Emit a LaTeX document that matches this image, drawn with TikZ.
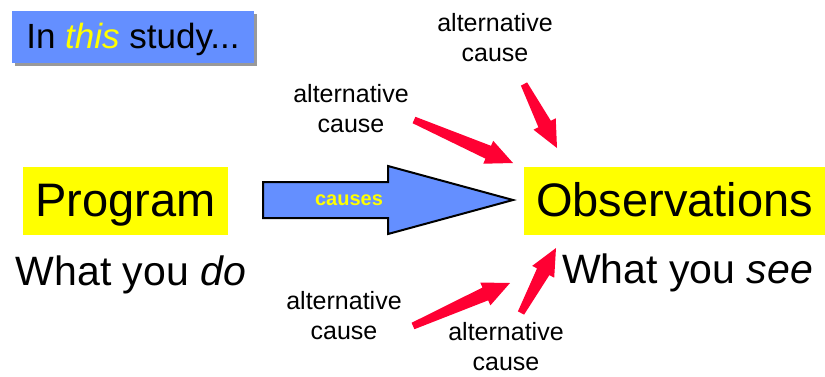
\documentclass[tikz,border=0pt]{standalone}
\usepackage{fontspec}
\setmainfont{Liberation Sans}
\usetikzlibrary{calc,backgrounds}
\definecolor{bluec}{RGB}{100,143,255}
\definecolor{yellowc}{RGB}{255,255,0}
\definecolor{redc}{RGB}{255,0,51}
\definecolor{shadowc}{RGB}{153,153,153}
\newcommand\redarrow[2]{%
  \coordinate (hb) at ($(#2)!27pt!(#1)$);
  \fill[redc] ($(#1)!3.5pt!90:(#2)$) -- ($(hb)!7pt!90:(#2)$) -- ($(hb)!12.5pt!90:(#2)$)
    -- (#2) -- ($(hb)!12.5pt!-90:(#2)$) -- ($(hb)!7pt!-90:(#2)$) -- ($(#1)!3.5pt!-90:(#2)$) -- cycle;
}
\tikzset{
  ybox/.style={fill=yellowc, inner sep=0pt, text height=38pt, text depth=8pt,
    minimum height=68pt, font=\fontsize{47}{56}\selectfont},
  bigtxt/.style={inner sep=0pt, anchor=base, font=\fontsize{41}{50}\selectfont},
  alt/.style={inner sep=0pt, align=center, font=\fontsize{25}{30}\selectfont},
  bluearrow/.style={fill=bluec, draw=black, line width=2pt, line join=miter},
}
\begin{document}
\begin{tikzpicture}[x=1pt,y=-1pt]
\useasboundingbox (0,0) rectangle (825,376);
% title box
\node[fill=bluec, inner sep=0pt, minimum width=242pt, minimum height=52pt,
  text height=28pt, text depth=6pt, font=\fontsize{35}{42}\selectfont]
  (study) at (133,37) {In \textcolor{yellowc}{\itshape this} study...};
\begin{scope}[on background layer]
  \fill[shadowc] ([shift={(3,3)}]study.south west) rectangle ([shift={(3,3)}]study.north east);
\end{scope}
% main boxes
\node[ybox, minimum width=205pt] (prog) at (125.5,201) {Program};
\node[ybox, minimum width=301pt] (obs) at (674.5,201) {Observations};
\node[bigtxt] (do) at (131,285) {What you \textit{do}};
\node[bigtxt] (see) at (687.5,283) {What you \textit{see}};
% blue arrow
\coordinate (bt) at (263,200);
\coordinate (bp) at (513,200);
\draw[bluearrow] ($(bt)+(0,-18)$) -- ($(bt)+(125,-18)$) -- ($(bt)+(125,-34)$) -- (bp)
  -- ($(bt)+(125,34)$) -- ($(bt)+(125,18)$) -- ($(bt)+(0,18)$) -- cycle;
\node[text=yellowc, inner sep=0pt, font=\bfseries\fontsize{20}{24}\selectfont] (ca) at (349,200) {causes};
% alternative causes
\node[alt] (a1) at (495,38) {alternative\\cause};
\node[alt] (a2) at (351,108.5) {alternative\\cause};
\node[alt] (a3) at (344,316) {alternative\\cause};
\node[alt] (a4) at (506,347) {alternative\\cause};
\coordinate (t1) at (524,84);   \coordinate (p1) at (557,148);
\coordinate (t2) at (414,120);  \coordinate (p2) at (513,163);
\coordinate (t3) at (413,326);  \coordinate (p3) at (510,283);
\coordinate (t4) at (521,313);  \coordinate (p4) at (556,248);
\redarrow{t1}{p1}
\redarrow{t2}{p2}
\redarrow{t3}{p3}
\redarrow{t4}{p4}
\end{tikzpicture}
\end{document}
